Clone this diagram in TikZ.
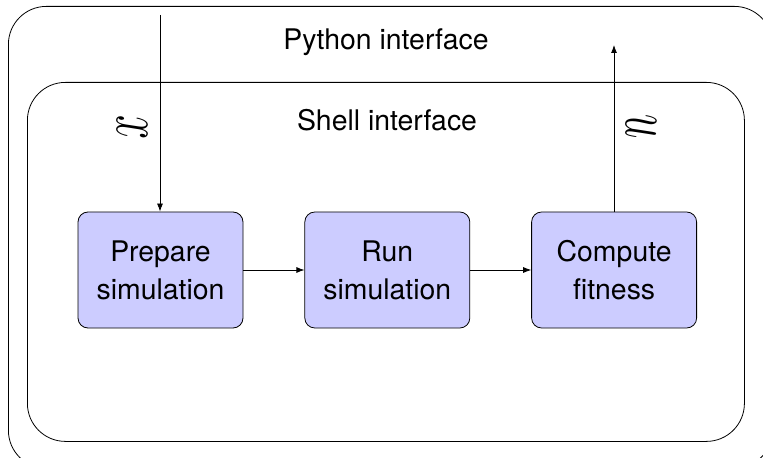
\documentclass[tikz,border=0pt]{standalone}
\usepackage{fontspec}
\setmainfont{TeX Gyre Heros}
\usetikzlibrary{positioning,arrows.meta}

\begin{document}
\begin{tikzpicture}[
  x=0.5pt, y=-0.5pt,
  font=\fontsize{14.2}{19}\selectfont,
  frame/.style={draw, rounded corners=19pt, anchor=north west, inner sep=0pt},
  stage/.style={draw, fill=blue!20, rounded corners=5pt, align=center,
    minimum width=82.5pt, minimum height=58pt, inner sep=2pt},
  arr/.style={-{Latex[length=4pt,width=3pt]}},
  sym/.style={rotate=-90, font=\huge, inner sep=0pt}
]
\useasboundingbox (0,0) rectangle (763,458);
\node[frame, minimum width=382pt, minimum height=231pt] (python) at (8,6) {};
\node[frame, minimum width=358.5pt, minimum height=179.5pt] (shell) at (27,82) {};
\node (pylbl) at (386,42) {Python interface};
\node (shlbl) at (387,120) {Shell interface};

\node[stage] (prep) at (160.5,270) {Prepare\\simulation};
\node[stage, right=30.5pt of prep] (run) {Run\\simulation};
\node[stage, right=30.5pt of run] (fit) {Compute\\fitness};

\coordinate (xin) at (160,15);
\coordinate (uout) at (614,45);
\draw[arr] (xin) -- (xin |- prep.north);
\draw[arr] (prep) -- (run);
\draw[arr] (run) -- (fit);
\draw[arr] (uout |- fit.north) -- (uout);
\node[sym] (xlbl) at (132,128) {\scalebox{1.05}[1.7]{$x$}};
\node[sym] (ulbl) at (641,127) {\scalebox{1.05}[1.7]{$u$}};
\end{tikzpicture}
\end{document}
